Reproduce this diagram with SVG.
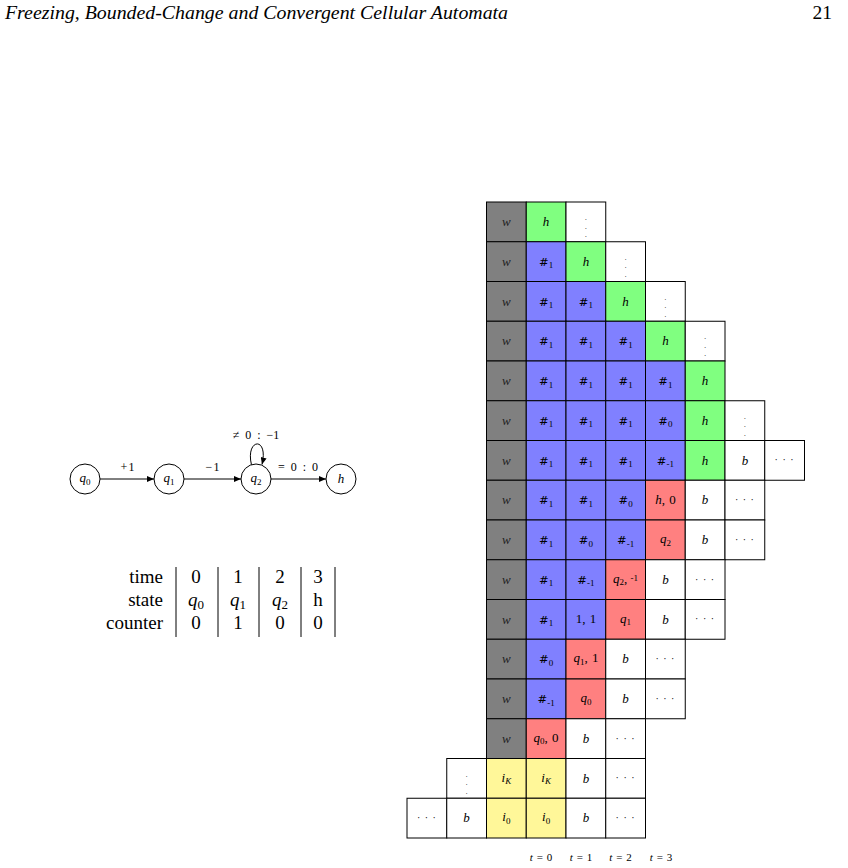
<svg xmlns="http://www.w3.org/2000/svg" width="848" height="868" viewBox="0 0 848 868">
<defs>
<marker id="arr" markerUnits="userSpaceOnUse" markerWidth="8" markerHeight="6" refX="7" refY="3" orient="auto">
<path d="M0,0 L7,3 L0,6 z" fill="#000"/>
</marker>
<style>
rect{stroke:#000;stroke-width:1}
.gw{fill:#808080}.gg{fill:#80ff80}.gb{fill:#8080ff}.gr{fill:#ff8080}.gy{fill:#fff799}.gn{fill:#ffffff}
text{font-family:"Liberation Serif",serif;fill:#000}
.c{font-size:13px;text-anchor:middle}
.i{font-style:italic}
.s{font-size:9px}
.hs{font-family:"DejaVu Serif",serif;font-size:11.5px}
.wt{font-style:italic;fill:#222}
.vd{font-size:7px;text-anchor:middle}
.hd{font-size:10px;text-anchor:middle;letter-spacing:1px}
.hdr{font-size:19.5px}
.tb{font-size:19px}
.tbm{font-size:19px;text-anchor:middle}
.el{font-size:12px;text-anchor:middle;word-spacing:3px}
.nd{fill:#fff;stroke:#000;stroke-width:1}
.tl{font-size:11px;text-anchor:middle;word-spacing:1px}
</style>
</defs>
<g id="header">
<text class="hdr i" x="5" y="19" textLength="503" lengthAdjust="spacingAndGlyphs">Freezing, Bounded-Change and Convergent Cellular Automata</text>
<text class="hdr" x="832" y="19" text-anchor="end">21</text>
</g>

<g id="connectors" fill="none" stroke="#000" stroke-width="1">
<line x1="100" y1="479" x2="154" y2="479" marker-end="url(#arr)"/>
<line x1="184" y1="479" x2="241" y2="479" marker-end="url(#arr)"/>
<line x1="271" y1="479" x2="326" y2="479" marker-end="url(#arr)"/>
<path d="M251.5,465 C245,438 269,436 262,464.5" marker-end="url(#arr)"/>
</g>
<g id="edge-labels">
<text class="el" x="128" y="471" letter-spacing="1">+1</text>
<text class="el" x="213" y="471" letter-spacing="1">−1</text>
<text class="el" x="298" y="471">= 0 : 0</text>
<text class="el" x="256" y="439">≠ 0 : −1</text>
</g>
<g id="node-q0"><circle class="nd" cx="85" cy="479" r="15"/><text class="c" x="85" y="482"><tspan class="i">q</tspan><tspan class="s" dy="2.5">0</tspan></text></g>
<g id="node-q1"><circle class="nd" cx="169" cy="479" r="15"/><text class="c" x="169" y="482"><tspan class="i">q</tspan><tspan class="s" dy="2.5">1</tspan></text></g>
<g id="node-q2"><circle class="nd" cx="256" cy="479" r="15"/><text class="c" x="256" y="482"><tspan class="i">q</tspan><tspan class="s" dy="2.5">2</tspan></text></g>
<g id="node-h"><circle class="nd" cx="341" cy="479" r="15"/><text class="c i" x="341" y="483">h</text></g>

<g id="table">
<g stroke="#000" stroke-width="1">
<line x1="176" y1="567" x2="176" y2="637"/>
<line x1="218" y1="567" x2="218" y2="637"/>
<line x1="259" y1="567" x2="259" y2="637"/>
<line x1="301" y1="567" x2="301" y2="637"/>
<line x1="335" y1="567" x2="335" y2="637"/>
</g>
<text class="tb" x="163" y="583" text-anchor="end">time</text>
<text class="tb" x="163" y="606" text-anchor="end">state</text>
<text class="tb" x="163" y="629" text-anchor="end">counter</text>
<text class="tbm" x="196" y="583">0</text>
<text class="tbm" x="238" y="583">1</text>
<text class="tbm" x="280" y="583">2</text>
<text class="tbm" x="318" y="583">3</text>
<text class="tbm" x="196" y="606"><tspan class="i">q</tspan><tspan font-size="13" dy="3">0</tspan></text>
<text class="tbm" x="238" y="606"><tspan class="i">q</tspan><tspan font-size="13" dy="3">1</tspan></text>
<text class="tbm" x="280" y="606"><tspan class="i">q</tspan><tspan font-size="13" dy="3">2</tspan></text>
<text class="tbm" x="318" y="606">h</text>
<text class="tbm" x="196" y="629">0</text>
<text class="tbm" x="238" y="629">1</text>
<text class="tbm" x="280" y="629">0</text>
<text class="tbm" x="318" y="629">0</text>
</g>

<g id="grid">
<g id="row-0">
<rect class="gw" x="486.5" y="202" width="39.75" height="39.75"/>
<rect class="gg" x="526.25" y="202" width="39.75" height="39.75"/>
<rect class="gn" x="566" y="202" width="39.75" height="39.75"/>
<text class="c wt" x="506.4" y="226">w</text>
<text class="c i" x="546.1" y="226">h</text>
<text class="vd" x="585.9" y="220">.</text><text class="vd" x="585.9" y="228.5">.</text><text class="vd" x="585.9" y="237">.</text>
</g>
<g id="row-1">
<rect class="gw" x="486.5" y="241.75" width="39.75" height="39.75"/>
<rect class="gb" x="526.25" y="241.75" width="39.75" height="39.75"/>
<rect class="gg" x="566" y="241.75" width="39.75" height="39.75"/>
<rect class="gn" x="605.75" y="241.75" width="39.75" height="39.75"/>
<text class="c wt" x="506.4" y="265.7">w</text>
<text class="c" x="546.1" y="265.7"><tspan class="hs">#</tspan><tspan class="s" dy="2.5">1</tspan></text>
<text class="c i" x="585.9" y="265.7">h</text>
<text class="vd" x="625.6" y="259.7">.</text><text class="vd" x="625.6" y="268.2">.</text><text class="vd" x="625.6" y="276.7">.</text>
</g>
<g id="row-2">
<rect class="gw" x="486.5" y="281.5" width="39.75" height="39.75"/>
<rect class="gb" x="526.25" y="281.5" width="39.75" height="39.75"/>
<rect class="gb" x="566" y="281.5" width="39.75" height="39.75"/>
<rect class="gg" x="605.75" y="281.5" width="39.75" height="39.75"/>
<rect class="gn" x="645.5" y="281.5" width="39.75" height="39.75"/>
<text class="c wt" x="506.4" y="305.5">w</text>
<text class="c" x="546.1" y="305.5"><tspan class="hs">#</tspan><tspan class="s" dy="2.5">1</tspan></text>
<text class="c" x="585.9" y="305.5"><tspan class="hs">#</tspan><tspan class="s" dy="2.5">1</tspan></text>
<text class="c i" x="625.6" y="305.5">h</text>
<text class="vd" x="665.4" y="299.5">.</text><text class="vd" x="665.4" y="308">.</text><text class="vd" x="665.4" y="316.5">.</text>
</g>
<g id="row-3">
<rect class="gw" x="486.5" y="321.25" width="39.75" height="39.75"/>
<rect class="gb" x="526.25" y="321.25" width="39.75" height="39.75"/>
<rect class="gb" x="566" y="321.25" width="39.75" height="39.75"/>
<rect class="gb" x="605.75" y="321.25" width="39.75" height="39.75"/>
<rect class="gg" x="645.5" y="321.25" width="39.75" height="39.75"/>
<rect class="gn" x="685.25" y="321.25" width="39.75" height="39.75"/>
<text class="c wt" x="506.4" y="345.2">w</text>
<text class="c" x="546.1" y="345.2"><tspan class="hs">#</tspan><tspan class="s" dy="2.5">1</tspan></text>
<text class="c" x="585.9" y="345.2"><tspan class="hs">#</tspan><tspan class="s" dy="2.5">1</tspan></text>
<text class="c" x="625.6" y="345.2"><tspan class="hs">#</tspan><tspan class="s" dy="2.5">1</tspan></text>
<text class="c i" x="665.4" y="345.2">h</text>
<text class="vd" x="705.1" y="339.2">.</text><text class="vd" x="705.1" y="347.7">.</text><text class="vd" x="705.1" y="356.2">.</text>
</g>
<g id="row-4">
<rect class="gw" x="486.5" y="361" width="39.75" height="39.75"/>
<rect class="gb" x="526.25" y="361" width="39.75" height="39.75"/>
<rect class="gb" x="566" y="361" width="39.75" height="39.75"/>
<rect class="gb" x="605.75" y="361" width="39.75" height="39.75"/>
<rect class="gb" x="645.5" y="361" width="39.75" height="39.75"/>
<rect class="gg" x="685.25" y="361" width="39.75" height="39.75"/>
<text class="c wt" x="506.4" y="385">w</text>
<text class="c" x="546.1" y="385"><tspan class="hs">#</tspan><tspan class="s" dy="2.5">1</tspan></text>
<text class="c" x="585.9" y="385"><tspan class="hs">#</tspan><tspan class="s" dy="2.5">1</tspan></text>
<text class="c" x="625.6" y="385"><tspan class="hs">#</tspan><tspan class="s" dy="2.5">1</tspan></text>
<text class="c" x="665.4" y="385"><tspan class="hs">#</tspan><tspan class="s" dy="2.5">1</tspan></text>
<text class="c i" x="705.1" y="385">h</text>
</g>
<g id="row-5">
<rect class="gw" x="486.5" y="400.75" width="39.75" height="39.75"/>
<rect class="gb" x="526.25" y="400.75" width="39.75" height="39.75"/>
<rect class="gb" x="566" y="400.75" width="39.75" height="39.75"/>
<rect class="gb" x="605.75" y="400.75" width="39.75" height="39.75"/>
<rect class="gb" x="645.5" y="400.75" width="39.75" height="39.75"/>
<rect class="gg" x="685.25" y="400.75" width="39.75" height="39.75"/>
<rect class="gn" x="725" y="400.75" width="39.75" height="39.75"/>
<text class="c wt" x="506.4" y="424.7">w</text>
<text class="c" x="546.1" y="424.7"><tspan class="hs">#</tspan><tspan class="s" dy="2.5">1</tspan></text>
<text class="c" x="585.9" y="424.7"><tspan class="hs">#</tspan><tspan class="s" dy="2.5">1</tspan></text>
<text class="c" x="625.6" y="424.7"><tspan class="hs">#</tspan><tspan class="s" dy="2.5">1</tspan></text>
<text class="c" x="665.4" y="424.7"><tspan class="hs">#</tspan><tspan class="s" dy="2.5">0</tspan></text>
<text class="c i" x="705.1" y="424.7">h</text>
<text class="vd" x="744.9" y="418.7">.</text><text class="vd" x="744.9" y="427.2">.</text><text class="vd" x="744.9" y="435.7">.</text>
</g>
<g id="row-6">
<rect class="gw" x="486.5" y="440.5" width="39.75" height="39.75"/>
<rect class="gb" x="526.25" y="440.5" width="39.75" height="39.75"/>
<rect class="gb" x="566" y="440.5" width="39.75" height="39.75"/>
<rect class="gb" x="605.75" y="440.5" width="39.75" height="39.75"/>
<rect class="gb" x="645.5" y="440.5" width="39.75" height="39.75"/>
<rect class="gg" x="685.25" y="440.5" width="39.75" height="39.75"/>
<rect class="gn" x="725" y="440.5" width="39.75" height="39.75"/>
<rect class="gn" x="764.75" y="440.5" width="39.75" height="39.75"/>
<text class="c wt" x="506.4" y="464.5">w</text>
<text class="c" x="546.1" y="464.5"><tspan class="hs">#</tspan><tspan class="s" dy="2.5">1</tspan></text>
<text class="c" x="585.9" y="464.5"><tspan class="hs">#</tspan><tspan class="s" dy="2.5">1</tspan></text>
<text class="c" x="625.6" y="464.5"><tspan class="hs">#</tspan><tspan class="s" dy="2.5">1</tspan></text>
<text class="c" x="665.4" y="464.5"><tspan class="hs">#</tspan><tspan class="s" dy="2.5">-1</tspan></text>
<text class="c i" x="705.1" y="464.5">h</text>
<text class="c i" x="744.9" y="464.5">b</text>
<text class="hd" x="784.6" y="463.4">· · ·</text>
</g>
<g id="row-7">
<rect class="gw" x="486.5" y="480.25" width="39.75" height="39.75"/>
<rect class="gb" x="526.25" y="480.25" width="39.75" height="39.75"/>
<rect class="gb" x="566" y="480.25" width="39.75" height="39.75"/>
<rect class="gb" x="605.75" y="480.25" width="39.75" height="39.75"/>
<rect class="gr" x="645.5" y="480.25" width="39.75" height="39.75"/>
<rect class="gn" x="685.25" y="480.25" width="39.75" height="39.75"/>
<rect class="gn" x="725" y="480.25" width="39.75" height="39.75"/>
<text class="c wt" x="506.4" y="504.2">w</text>
<text class="c" x="546.1" y="504.2"><tspan class="hs">#</tspan><tspan class="s" dy="2.5">1</tspan></text>
<text class="c" x="585.9" y="504.2"><tspan class="hs">#</tspan><tspan class="s" dy="2.5">1</tspan></text>
<text class="c" x="625.6" y="504.2"><tspan class="hs">#</tspan><tspan class="s" dy="2.5">0</tspan></text>
<text class="c" x="665.4" y="504.2" word-spacing="1"><tspan class="i">h</tspan>, 0</text>
<text class="c i" x="705.1" y="504.2">b</text>
<text class="hd" x="744.9" y="503.1">· · ·</text>
</g>
<g id="row-8">
<rect class="gw" x="486.5" y="520" width="39.75" height="39.75"/>
<rect class="gb" x="526.25" y="520" width="39.75" height="39.75"/>
<rect class="gb" x="566" y="520" width="39.75" height="39.75"/>
<rect class="gb" x="605.75" y="520" width="39.75" height="39.75"/>
<rect class="gr" x="645.5" y="520" width="39.75" height="39.75"/>
<rect class="gn" x="685.25" y="520" width="39.75" height="39.75"/>
<rect class="gn" x="725" y="520" width="39.75" height="39.75"/>
<text class="c wt" x="506.4" y="544">w</text>
<text class="c" x="546.1" y="544"><tspan class="hs">#</tspan><tspan class="s" dy="2.5">1</tspan></text>
<text class="c" x="585.9" y="544"><tspan class="hs">#</tspan><tspan class="s" dy="2.5">0</tspan></text>
<text class="c" x="625.6" y="544"><tspan class="hs">#</tspan><tspan class="s" dy="2.5">-1</tspan></text>
<text class="c" x="665.4" y="543"><tspan class="i">q</tspan><tspan class="s" dy="2.5">2</tspan></text>
<text class="c i" x="705.1" y="544">b</text>
<text class="hd" x="744.9" y="542.9">· · ·</text>
</g>
<g id="row-9">
<rect class="gw" x="486.5" y="559.75" width="39.75" height="39.75"/>
<rect class="gb" x="526.25" y="559.75" width="39.75" height="39.75"/>
<rect class="gb" x="566" y="559.75" width="39.75" height="39.75"/>
<rect class="gr" x="605.75" y="559.75" width="39.75" height="39.75"/>
<rect class="gn" x="645.5" y="559.75" width="39.75" height="39.75"/>
<rect class="gn" x="685.25" y="559.75" width="39.75" height="39.75"/>
<text class="c wt" x="506.4" y="583.7">w</text>
<text class="c" x="546.1" y="583.7"><tspan class="hs">#</tspan><tspan class="s" dy="2.5">1</tspan></text>
<text class="c" x="585.9" y="583.7"><tspan class="hs">#</tspan><tspan class="s" dy="2.5">-1</tspan></text>
<text class="c" x="625.6" y="582.7"><tspan class="i">q</tspan><tspan class="s" dy="2.5">2</tspan><tspan dy="-2.5">, </tspan><tspan class="s" dy="-1.5">-1</tspan></text>
<text class="c i" x="665.4" y="583.7">b</text>
<text class="hd" x="705.1" y="582.6">· · ·</text>
</g>
<g id="row-10">
<rect class="gw" x="486.5" y="599.5" width="39.75" height="39.75"/>
<rect class="gb" x="526.25" y="599.5" width="39.75" height="39.75"/>
<rect class="gb" x="566" y="599.5" width="39.75" height="39.75"/>
<rect class="gr" x="605.75" y="599.5" width="39.75" height="39.75"/>
<rect class="gn" x="645.5" y="599.5" width="39.75" height="39.75"/>
<rect class="gn" x="685.25" y="599.5" width="39.75" height="39.75"/>
<text class="c wt" x="506.4" y="623.5">w</text>
<text class="c" x="546.1" y="623.5"><tspan class="hs">#</tspan><tspan class="s" dy="2.5">1</tspan></text>
<text class="c" x="585.9" y="622.5" font-size="11" word-spacing="1">1, 1</text>
<text class="c" x="625.6" y="622.5"><tspan class="i">q</tspan><tspan class="s" dy="2.5">1</tspan></text>
<text class="c i" x="665.4" y="623.5">b</text>
<text class="hd" x="705.1" y="622.4">· · ·</text>
</g>
<g id="row-11">
<rect class="gw" x="486.5" y="639.25" width="39.75" height="39.75"/>
<rect class="gb" x="526.25" y="639.25" width="39.75" height="39.75"/>
<rect class="gr" x="566" y="639.25" width="39.75" height="39.75"/>
<rect class="gn" x="605.75" y="639.25" width="39.75" height="39.75"/>
<rect class="gn" x="645.5" y="639.25" width="39.75" height="39.75"/>
<text class="c wt" x="506.4" y="663.2">w</text>
<text class="c" x="546.1" y="663.2"><tspan class="hs">#</tspan><tspan class="s" dy="2.5">0</tspan></text>
<text class="c" x="585.9" y="662.2" word-spacing="1"><tspan class="i">q</tspan><tspan class="s" dy="2.5">1</tspan><tspan dy="-2.5">, 1</tspan></text>
<text class="c i" x="625.6" y="663.2">b</text>
<text class="hd" x="665.4" y="662.1">· · ·</text>
</g>
<g id="row-12">
<rect class="gw" x="486.5" y="679" width="39.75" height="39.75"/>
<rect class="gb" x="526.25" y="679" width="39.75" height="39.75"/>
<rect class="gr" x="566" y="679" width="39.75" height="39.75"/>
<rect class="gn" x="605.75" y="679" width="39.75" height="39.75"/>
<rect class="gn" x="645.5" y="679" width="39.75" height="39.75"/>
<text class="c wt" x="506.4" y="703">w</text>
<text class="c" x="546.1" y="703"><tspan class="hs">#</tspan><tspan class="s" dy="2.5">-1</tspan></text>
<text class="c" x="585.9" y="702"><tspan class="i">q</tspan><tspan class="s" dy="2.5">0</tspan></text>
<text class="c i" x="625.6" y="703">b</text>
<text class="hd" x="665.4" y="701.9">· · ·</text>
</g>
<g id="row-13">
<rect class="gw" x="486.5" y="718.75" width="39.75" height="39.75"/>
<rect class="gr" x="526.25" y="718.75" width="39.75" height="39.75"/>
<rect class="gn" x="566" y="718.75" width="39.75" height="39.75"/>
<rect class="gn" x="605.75" y="718.75" width="39.75" height="39.75"/>
<text class="c wt" x="506.4" y="742.7">w</text>
<text class="c" x="546.1" y="741.7" word-spacing="1"><tspan class="i">q</tspan><tspan class="s" dy="2.5">0</tspan><tspan dy="-2.5">, 0</tspan></text>
<text class="c i" x="585.9" y="742.7">b</text>
<text class="hd" x="625.6" y="741.6">· · ·</text>
</g>
<g id="row-14">
<rect class="gn" x="446.75" y="758.5" width="39.75" height="39.75"/>
<rect class="gy" x="486.5" y="758.5" width="39.75" height="39.75"/>
<rect class="gy" x="526.25" y="758.5" width="39.75" height="39.75"/>
<rect class="gn" x="566" y="758.5" width="39.75" height="39.75"/>
<rect class="gn" x="605.75" y="758.5" width="39.75" height="39.75"/>
<text class="vd" x="466.6" y="776.5">.</text><text class="vd" x="466.6" y="785">.</text><text class="vd" x="466.6" y="793.5">.</text>
<text class="c" x="506.4" y="781.5"><tspan class="i">i</tspan><tspan class="s i" dy="2.5">K</tspan></text>
<text class="c" x="546.1" y="781.5"><tspan class="i">i</tspan><tspan class="s i" dy="2.5">K</tspan></text>
<text class="c i" x="585.9" y="782.5">b</text>
<text class="hd" x="625.6" y="781.4">· · ·</text>
</g>
<g id="row-15">
<rect class="gn" x="407" y="798.25" width="39.75" height="39.75"/>
<rect class="gn" x="446.75" y="798.25" width="39.75" height="39.75"/>
<rect class="gy" x="486.5" y="798.25" width="39.75" height="39.75"/>
<rect class="gy" x="526.25" y="798.25" width="39.75" height="39.75"/>
<rect class="gn" x="566" y="798.25" width="39.75" height="39.75"/>
<rect class="gn" x="605.75" y="798.25" width="39.75" height="39.75"/>
<text class="hd" x="426.9" y="821.1">· · ·</text>
<text class="c i" x="466.6" y="822.2">b</text>
<text class="c" x="506.4" y="821.2"><tspan class="i">i</tspan><tspan class="s" dy="2.5">0</tspan></text>
<text class="c" x="546.1" y="821.2"><tspan class="i">i</tspan><tspan class="s" dy="2.5">0</tspan></text>
<text class="c i" x="585.9" y="822.2">b</text>
<text class="hd" x="625.6" y="821.1">· · ·</text>
</g>
</g>

<g id="time-labels">
<text class="tl" x="541" y="861"><tspan class="i">t</tspan> = 0</text>
<text class="tl" x="581" y="861"><tspan class="i">t</tspan> = 1</text>
<text class="tl" x="620.5" y="861"><tspan class="i">t</tspan> = 2</text>
<text class="tl" x="661" y="861"><tspan class="i">t</tspan> = 3</text>
</g>
</svg>
